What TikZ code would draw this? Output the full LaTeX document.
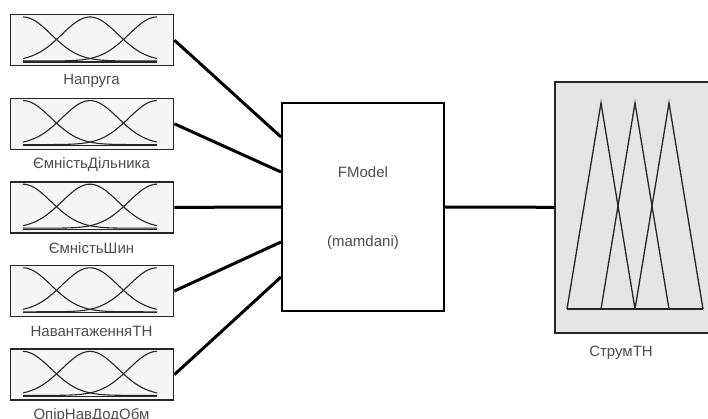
\documentclass[tikz,border=0pt]{standalone}
\usepackage{fontspec}
\setmainfont{Liberation Sans}
\begin{document}
\begin{tikzpicture}[x=1pt,y=-1pt,
  inbox/.style={draw=black!85, line width=1.4pt, fill=black!4, minimum width=163pt,
    minimum height=51pt, inner sep=0pt, anchor=north west},
  lbl/.style={text=black!70, font=\fontsize{15}{17}\selectfont, inner sep=0pt},
  link/.style={line width=3pt, black},
  mf/.style={line width=1.1pt, black!85},
  sysbox/.style={draw=black, line width=2pt, fill=white, minimum width=162pt,
    minimum height=208pt, inner sep=0pt},
  outbox/.style={draw=black!85, line width=1.6pt, fill=black!10, minimum width=170pt,
    minimum height=251pt, inner sep=0pt, anchor=north west},
]
\useasboundingbox (0,0) rectangle (708,419);
\clip (0,0) rectangle (708,419);

% inference system block
\node[sysbox] (fis) at (363,207) {};
\node[lbl] (fis-a) at (363,172) {FModel};
\node[lbl] (fis-b) at (363,243) {(mamdani)};

% input ports on the left side of the block
\path (fis.west) ++(0,-70) coordinate (p1);
\path (fis.west) ++(0,-35) coordinate (p2);
\path (fis.west) coordinate (p3);
\path (fis.west) ++(0,35) coordinate (p4);
\path (fis.west) ++(0,70) coordinate (p5);

% input variables with three gaussian membership functions each
\foreach \i/\name/\txt in {0/in1/Напруга, 1/in2/ЄмністьДільника, 2/in3/ЄмністьШин,
    3/in4/НавантаженняТН, 4/in5/ОпірНавДодОбм} {
  \pgfmathsetmacro\top{14+83.6*\i}
  \node[inbox] (\name) at (10,\top) {};
  \node[lbl] (\name-l) at (91.5,\top+67) {\txt};
  \draw[mf] (23,\top+48) -- (157,\top+48);
  \foreach \c in {23,90,157} {
    \draw[mf] plot[domain=23:157, samples=70, smooth]
      (\x, {\top+47-44*exp(-0.5*((\x-\c)/28)^2)});
  }
}

% connectors into the block
\draw[link] (in1.east) -- (p1);
\draw[link] (in2.east) -- (p2);
\draw[link] (in3.east) -- (p3);
\draw[link] (in4.east) -- (p4);
\draw[link] (in5.east) -- (p5);

% output variable with three triangular membership functions
\node[outbox] (out) at (554,81) {};
\node[lbl] (out-l) at (621,353) {СтрумТН};
\draw[mf, line width=1.3pt] (567,309) -- (703,309);
\draw[mf, line width=1.3pt] (567,309) -- (601,103) -- (635,309);
\draw[mf, line width=1.3pt] (601,309) -- (635,103) -- (669,309);
\draw[mf, line width=1.3pt] (635,309) -- (669,103) -- (703,309);

% connector out of the block
\draw[link] (fis.east) -- (out.west);
\end{tikzpicture}
\end{document}
